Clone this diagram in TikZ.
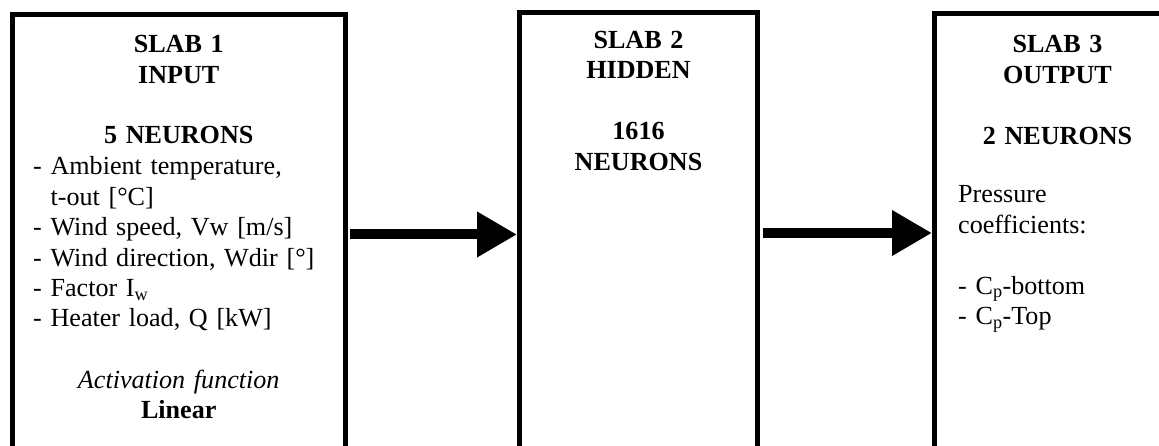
\documentclass[tikz,border=0pt]{standalone}
\usepackage{fontspec}
\setmainfont{Liberation Serif}
\usetikzlibrary{arrows.meta}
\begin{document}
\begin{tikzpicture}[x=1pt,y=1pt,
  slab/.style={draw, line width=5pt, inner sep=0pt, minimum height=520pt},
  txt/.style={inner sep=0pt, text width=300pt, font=\fontsize{26.1}{30.4}\selectfont},
  ctxt/.style={txt, anchor=base, align=center},
  ltxt/.style={txt, anchor=base west, align=left},
  flow/.style={line width=10pt, -{Triangle[length=40pt,width=43pt]}}]
  \useasboundingbox (0,0) rectangle (1159,-446);
  \clip (0,0) rectangle (1159,-446);

  % the three slabs, open towards the bottom
  \node[slab, minimum width=332.5pt] (slab1) at (178.75,-274.5) {};
  \node[slab, minimum width=238pt]   (slab2) at (638.5,-272.3) {};
  \node[slab, minimum width=246pt]   (slab3) at (1057.5,-274) {};

  % slab 1: input
  \node[ctxt] (in-title) at (178.75,-52.7)
    {\bfseries SLAB 1\\INPUT\\[30.4pt]5 NEURONS};
  \node[ltxt] (in-list) at (33,-175)
    {- Ambient temperature,\\\hphantom{-\ }t-out [°C]\\
     - Wind speed, Vw [m/s]\\
     - Wind direction, Wdir [°]\\
     - Factor I\textsubscript{w}\\
     - Heater load, Q [kW]};
  \node[ctxt] (in-act) at (178.75,-388)
    {\itshape Activation function\\\bfseries\upshape Linear};

  % slab 2: hidden
  \node[ctxt] (hid-title) at (638.5,-48.5)
    {\bfseries SLAB 2\\HIDDEN\\[30.4pt]1616\\NEURONS};

  % slab 3: output
  \node[ctxt] (out-title) at (1057.5,-53)
    {\bfseries SLAB 3\\OUTPUT\\[30.4pt]2 NEURONS};
  \node[ltxt] (out-list) at (958,-203)
    {Pressure\\coefficients:\\[30.4pt]
     - C\textsubscript{p}-bottom\\
     - C\textsubscript{p}-Top};

  % connections between the slabs
  \coordinate (lvl1) at (0,-234.5);
  \coordinate (lvl2) at (0,-233);
  \draw[flow] ([xshift=2.5pt]slab1.east |- lvl1) -- (slab2.west |- lvl1);
  \draw[flow] ([xshift=3pt]slab2.east |- lvl2) -- (slab3.west |- lvl2);
\end{tikzpicture}
\end{document}
